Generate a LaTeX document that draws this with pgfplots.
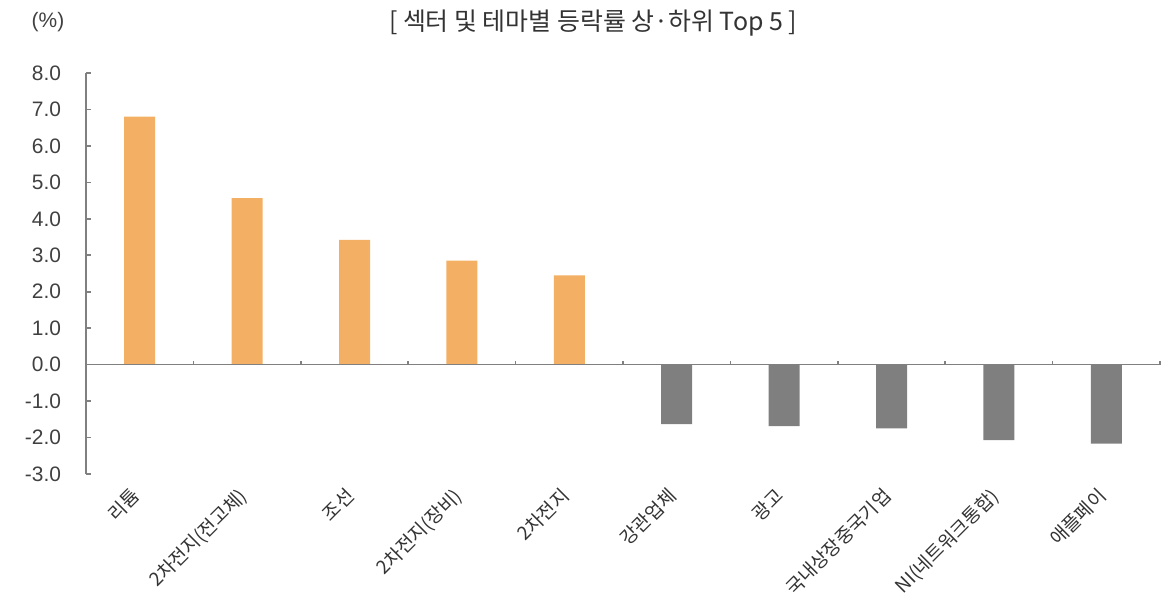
\documentclass[border=0pt]{standalone}
\usepackage{fontspec}
\usepackage{pgfplots}
\pgfplotsset{compat=1.18}
\setmainfont{Noto Sans CJK KR}
\newfontfamily\numfont{Liberation Sans}
\definecolor{barorange}{RGB}{243,175,100}
\definecolor{bargray}{RGB}{127,127,127}
\definecolor{axisgray}{RGB}{128,128,128}

\begin{document}
\begin{tikzpicture}
\begin{axis}[
  scale only axis,
  width=537bp, height=200.5bp,
  xmin=-0.5, xmax=9.5,
  ymin=-3, ymax=8,
  ytick={-3,-2,...,8},
  /pgf/number format/assume math mode=true,
  yticklabel style={font=\numfont\fontsize{10.5}{12}\selectfont, color=black!75, xshift=-9bp,
    /pgf/number format/.cd, fixed, fixed zerofill, precision=1},
  xtick={0,...,9},
  xticklabels={리튬, 2차전지(전고체), 조선, 2차전지(장비), 2차전지, 강관업체, 광고, 국내상장중국기업, NI(네트워크통합), 애플페이},
  xticklabel style={font=\fontsize{9.5}{11}\selectfont, color=black!80, rotate=45, anchor=north east, xshift=-2.7bp, yshift=4.4bp},
  axis x line*=bottom,
  axis y line*=left,
  x axis line style={draw=none},
  xtick style={draw=none},
  y axis line style={-, draw=axisgray, line width=0.8pt},
  ytick style={draw=axisgray, line width=0.8pt},
  tick align=inside,
  major tick length=2.5bp,
  ybar, bar width=15.5bp,
  clip=false,
]
\addplot[draw=none, fill=barorange, bar shift=0pt] coordinates {
  (0,6.80) (1,4.57) (2,3.42) (3,2.85) (4,2.45)
};
\addplot[draw=none, fill=bargray, bar shift=0pt] coordinates {
  (5,-1.63) (6,-1.69) (7,-1.75) (8,-2.07) (9,-2.17)
};
\draw[axisgray, line width=0.8pt] (axis cs:-0.5,0) -- (axis cs:9.5,0);
\pgfplotsinvokeforeach{-0.5,0.5,1.5,2.5,3.5,4.5,5.5,6.5,7.5,8.5,9.5}{
  \draw[axisgray, line width=0.8pt] (axis cs:#1,0) -- (axis cs:#1,0.11);
}
\end{axis}
\node[font=\fontsize{12.5}{14}\selectfont, color=black!80] at ([shift={(253.5bp,25bp)}]current axis.north west) {[ 섹터 및 테마별 등락률 상·하위 Top 5 ]};
\node[font=\numfont\fontsize{10.5}{12}\selectfont, color=black!75] at ([shift={(-19bp,25.5bp)}]current axis.north west) {(\%)};
\pgfresetboundingbox
\path[use as bounding box] ([shift={(-43bp,-70.5bp)}]current axis.south west) rectangle ([shift={(5bp,36.5bp)}]current axis.north east);
\end{tikzpicture}
\end{document}
